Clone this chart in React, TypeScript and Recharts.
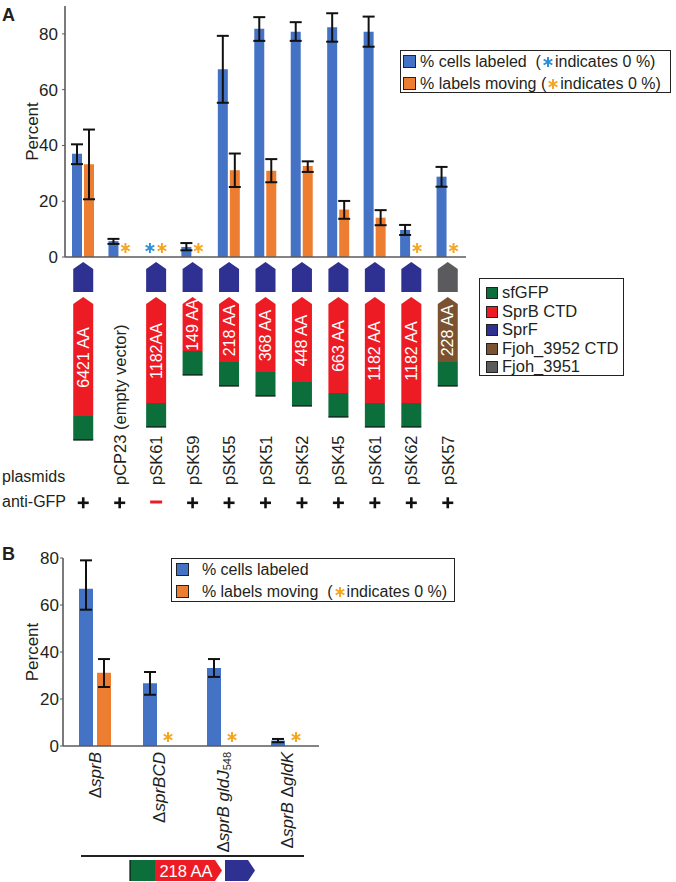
import React from "react";
import { BarChart, Bar, XAxis, YAxis, ErrorBar, LabelList } from "recharts";

const FONT = '"Liberation Sans", Arial, Helvetica, sans-serif';
const INK = "#231F20";
const BLUE = "#4472C4";
const ORANGE = "#ED7D31";
const STAR_BLUE = "#2F8FD8";
const STAR_ORANGE = "#F6A623";

const DOMAIN_COLORS: Record<string, string> = {
  sfGFP: "#0B6E3B",
  "SprB CTD": "#ED1C24",
  SprF: "#2E3192",
  "Fjoh_3952 CTD": "#7A5230",
  Fjoh_3951: "#5B5B5E",
};

// ---- panel A data ----
const plasmidsA = ["", "pCP23 (empty vector)", "pSK61", "pSK59", "pSK55", "pSK51", "pSK52", "pSK45", "pSK61", "pSK62", "pSK57"];
const antiGFP = [true, true, false, true, true, true, true, true, true, true, true];
const capDomain = ["SprF", null, "SprF", "SprF", "SprF", "SprF", "SprF", "SprF", "SprF", "SprF", "Fjoh_3951"];
const ctdDomain = ["SprB CTD", null, "SprB CTD", "SprB CTD", "SprB CTD", "SprB CTD", "SprB CTD", "SprB CTD", "SprB CTD", "SprB CTD", "Fjoh_3952 CTD"];
const ctdLabels = ["6421 AA", "", "1182AA", "149 AA", "218 AA", "368 AA", "448 AA", "663 AA", "1182 AA", "1182 AA", "228 AA"];

const cellsA = [37, 5.7, 0, 3.6, 67.3, 81.8, 80.8, 82.4, 80.8, 9.7, 28.8];
const cellsALo = [33.3, 4.7, null, 2.4, 55.3, 77.5, 77.5, 77.2, 75.4, 7.9, 25.2];
const cellsAHi = [40.4, 6.5, null, 5.0, 79.3, 86.0, 84.2, 87.4, 86.2, 11.5, 32.3];
const movingA = [33.3, 0, 0, 0, 31.1, 30.9, 32.6, 17.0, 14.1, 0, 0];
const movingALo = [20.7, null, null, null, 25.1, 26.8, 30.5, 13.7, 11.4, null, null];
const movingAHi = [45.7, null, null, null, 37.1, 35.1, 34.3, 20.1, 16.8, null, null];

// ---- panel B data ----
const strainsB = ["ΔsprB", "ΔsprBCD", "ΔsprB gldJ548", "ΔsprB ΔgldK"];
const cellsB = [66.9, 26.7, 33.2, 2.3];
const cellsBLo = [58, 21.8, 29.4, 1.6];
const cellsBHi = [79, 31.5, 37.0, 3.0];
const movingB = [31.2, 0, 0, 0];
const movingBLo = [25.1, null, null, null];
const movingBHi = [37.0, null, null, null];

const yTicksA = [0, 20, 40, 60, 80];
const yTicksB = [0, 20, 40, 60, 80];

// drawing lengths (px below the axis) for the construct cartoons
const ctdEnd = [159, 0, 146, 94, 105, 115, 125, 136, 146, 146, 105];
const GFP_LEN = 24;

const err = (v: number, lo: number | null, hi: number | null) =>
  lo == null || hi == null ? undefined : [v - lo, hi - v];

const dataA = plasmidsA.map((p, i) => ({
  id: "c" + i,
  cells: cellsA[i],
  moving: movingA[i],
  cellsErr: err(cellsA[i], cellsALo[i], cellsAHi[i]),
  movingErr: err(movingA[i], movingALo[i], movingAHi[i]),
}));

const dataB = strainsB.map((s, i) => ({
  id: s,
  cells: cellsB[i],
  moving: movingB[i],
  cellsErr: err(cellsB[i], cellsBLo[i], cellsBHi[i]),
  movingErr: err(movingB[i], movingBLo[i], movingBHi[i]),
}));

const Star = ({ cx, cy, color, r = 5 }: { cx: number; cy: number; color: string; r?: number }) => (
  <g stroke={color} strokeWidth={2}>
    <line x1={cx} y1={cy - r} x2={cx} y2={cy + r} />
    <line x1={cx - r * 0.866} y1={cy - r / 2} x2={cx + r * 0.866} y2={cy + r / 2} />
    <line x1={cx - r * 0.866} y1={cy + r / 2} x2={cx + r * 0.866} y2={cy - r / 2} />
  </g>
);

// asterisk drawn where a bar has value 0
const zeroStar = (color: string, lift: number) => (props: any) => {
  const raw = Array.isArray(props.value) ? props.value[1] : props.value;
  if (Number(raw) !== 0) return null;
  const vb = props.viewBox && props.viewBox.x != null ? props.viewBox : props;
  const x = Number(vb.x);
  const w = Number(vb.width) || 0;
  const y = Number(vb.y);
  const h = Number(vb.height) || 0;
  if (!isFinite(x) || !isFinite(y)) return null;
  const base = Math.max(y, y + h);
  return <Star cx={x + w / 2} cy={base - lift} color={color} />;
};

const PercentLabel = (props: any) => {
  const vb = props.viewBox || {};
  const cx = (vb.x || 0) + 32;
  const cy = (vb.y || 0) + (vb.height || 0) / 2;
  return (
    <text x={cx} y={cy} transform={`rotate(-90 ${cx} ${cy})`} textAnchor="middle" dominantBaseline="central"
      fontSize={17} fill={INK} fontFamily={FONT}>
      Percent
    </text>
  );
};

const pent = (x: number, top: number, shoulder: number, bottom: number, h: number) =>
  `${x - h},${bottom} ${x - h},${shoulder} ${x},${top} ${x + h},${shoulder} ${x + h},${bottom}`;

const ColumnTick = (props: any) => {
  const { x, y, index } = props;
  const i = index as number;
  const h = 10;
  const cap = capDomain[i];
  const ctd = ctdDomain[i];
  const r = ctdEnd[i];
  const g = r + GFP_LEN;
  const mid = y + (40 + r) / 2 + 1;
  return (
    <g fontFamily={FONT}>
      {cap && <polygon points={pent(x, y + 5, y + 12, y + 35, h)} fill={DOMAIN_COLORS[cap]} />}
      {ctd && (
        <g>
          <polygon points={pent(x, y + 40, y + 47, y + r, h)} fill={DOMAIN_COLORS[ctd]} />
          <rect x={x - h} y={y + r} width={2 * h} height={GFP_LEN} fill={DOMAIN_COLORS.sfGFP} />
          <line x1={x - h} x2={x + h} y1={y + g} y2={y + g} stroke="#111" strokeWidth={1.2} />
          <text x={x} y={mid} transform={`rotate(-90 ${x} ${mid})`} textAnchor="middle" dominantBaseline="central"
            fontSize={16} fill="#fff">
            {ctdLabels[i]}
          </text>
        </g>
      )}
      {plasmidsA[i] && (
        <text x={x} y={y + 228} transform={`rotate(-90 ${x} ${y + 228})`} textAnchor="start" dominantBaseline="central"
          fontSize={16.5} fill={INK}>
          {plasmidsA[i]}
        </text>
      )}
      {antiGFP[i] ? (
        <g fill="#111">
          <rect x={x - 5.5} y={y + 244.5} width={11} height={2.6} />
          <rect x={x - 1.3} y={y + 240.3} width={2.6} height={11} />
        </g>
      ) : (
        <rect x={x - 6} y={y + 243.5} width={12} height={3} fill="#ED1C24" />
      )}
    </g>
  );
};

const StrainTick = (props: any) => {
  const { x, y, payload } = props;
  const label: string = payload.value;
  const ty = y + 6;
  const parts = label.match(/Δ|\d+$|[^Δ\d]+/g) || [];
  return (
    <text x={x} y={ty} transform={`rotate(-90 ${x} ${ty})`} textAnchor="end" dominantBaseline="central"
      fontSize={17} fill={INK} fontFamily={FONT}>
      {parts.map((p, k) =>
        p === "Δ" ? (
          <tspan key={k}>Δ</tspan>
        ) : /^\d+$/.test(p) ? (
          <tspan key={k} fontSize={11} dy={4}>{p}</tspan>
        ) : (
          <tspan key={k} fontStyle="italic">{p}</tspan>
        )
      )}
    </text>
  );
};

const Swatch = ({ color, size = 13 }: { color: string; size?: number }) => (
  <span style={{ display: "inline-block", width: size - 2, height: size - 2, background: color, border: "1.5px solid #222", marginRight: 4, verticalAlign: "-1px" }} />
);

const InlineStar = ({ color }: { color: string }) => (
  <svg width={12} height={12} style={{ verticalAlign: "-1px", margin: "0 1px" }}>
    <Star cx={6} cy={6} color={color} r={5} />
  </svg>
);

const axisStroke = "#5a5a5a";

export default function App() {
  return (
    <div style={{ position: "absolute", left: 0, top: 0, width: 676, height: 882, background: "#fff", fontFamily: FONT, color: INK, overflow: "hidden" }}>
      {/* panel A */}
      <div style={{ position: "absolute", left: 0, top: 0 }}>
        <BarChart width={676} height={520} data={dataA} margin={{ top: 6, right: 210, bottom: 0, left: 0 }} barSize={10} barGap={2}>
          <YAxis domain={[0, 90]} ticks={yTicksA} width={65} tickSize={3} tickMargin={4}
            axisLine={{ stroke: axisStroke, strokeWidth: 1.6 }} tickLine={{ stroke: axisStroke }}
            tick={{ fontSize: 17, fill: INK, fontFamily: FONT }} label={<PercentLabel />} />
          <XAxis dataKey="id" height={263} interval={0} tickSize={0} tickMargin={0} tickLine={false}
            axisLine={{ stroke: axisStroke, strokeWidth: 1.6 }} tick={<ColumnTick />} />
          <Bar dataKey="cells" fill={BLUE} minPointSize={0.01} isAnimationActive={false}>
            <ErrorBar dataKey="cellsErr" width={6} stroke="#111" strokeWidth={2} />
            <LabelList dataKey="cells" content={zeroStar(STAR_BLUE, 9)} />
          </Bar>
          <Bar dataKey="moving" fill={ORANGE} minPointSize={0.01} isAnimationActive={false}>
            <ErrorBar dataKey="movingErr" width={6} stroke="#111" strokeWidth={2} />
            <LabelList dataKey="moving" content={zeroStar(STAR_ORANGE, 9)} />
          </Bar>
        </BarChart>
      </div>

      {/* panel B */}
      <div style={{ position: "absolute", left: 0, top: 540 }}>
        <BarChart width={676} height={342} data={dataB} margin={{ top: 18, right: 357, bottom: 0, left: 0 }} barSize={14} barGap={4}>
          <YAxis domain={[0, 80]} ticks={yTicksB} width={63} tickSize={3} tickMargin={1}
            axisLine={{ stroke: axisStroke, strokeWidth: 1.6 }} tickLine={{ stroke: axisStroke }}
            tick={{ fontSize: 17, fill: INK, fontFamily: FONT }} label={<PercentLabel />} />
          <XAxis dataKey="id" height={136} interval={0} tickSize={0} tickMargin={0} tickLine={false}
            axisLine={{ stroke: axisStroke, strokeWidth: 1.6 }} tick={<StrainTick />} />
          <Bar dataKey="cells" fill={BLUE} minPointSize={0.01} isAnimationActive={false}>
            <ErrorBar dataKey="cellsErr" width={6} stroke="#111" strokeWidth={2} />
            <LabelList dataKey="cells" content={zeroStar(STAR_BLUE, 9)} />
          </Bar>
          <Bar dataKey="moving" fill={ORANGE} minPointSize={0.01} isAnimationActive={false}>
            <ErrorBar dataKey="movingErr" width={6} stroke="#111" strokeWidth={2} />
            <LabelList dataKey="moving" content={zeroStar(STAR_ORANGE, 9)} />
          </Bar>
        </BarChart>
      </div>

      {/* annotations */}
      <svg width={676} height={882} style={{ position: "absolute", left: 0, top: 0, pointerEvents: "none" }} fontFamily={FONT}>
        <text x={2} y={21} fontSize={18} fontWeight="bold" fill={INK}>A</text>
        <text x={2} y={560} fontSize={18} fontWeight="bold" fill={INK}>B</text>
        <text x={2} y={482} fontSize={16} fill={INK}>plasmids</text>
        <text x={2} y={507} fontSize={16} fill={INK}>anti-GFP</text>
        <line x1={81} x2={304} y1={856} y2={856} stroke="#222" strokeWidth={2} />
        <rect x={130} y={860} width={25} height={21} fill={DOMAIN_COLORS.sfGFP} />
        <line x1={130} x2={130} y1={860} y2={881} stroke="#111" strokeWidth={1.2} />
        <polygon points="155,860 215,860 222,870.5 215,881 155,881" fill={DOMAIN_COLORS["SprB CTD"]} />
        <text x={186} y={876.5} textAnchor="middle" fontSize={16.5} fill="#fff">218 AA</text>
        <polygon points="225,860 248,860 255,870.5 248,881 225,881" fill={DOMAIN_COLORS.SprF} />
      </svg>

      {/* legend A */}
      <div style={{ position: "absolute", left: 400, top: 50, width: 267, height: 41, border: "1.5px solid #222", fontSize: 16, lineHeight: "22px", padding: "0 0 0 2px", whiteSpace: "nowrap" }}>
        <div><Swatch color={BLUE} />% cells labeled&nbsp;&nbsp;(<InlineStar color={STAR_BLUE} />indicates 0 %)</div>
        <div><Swatch color={ORANGE} />% labels moving&nbsp;(<InlineStar color={STAR_ORANGE} />indicates 0 %)</div>
      </div>

      {/* protein legend */}
      <div style={{ position: "absolute", left: 479, top: 278, width: 145, height: 98, border: "1.5px solid #222", fontSize: 16.5, lineHeight: "18.5px", padding: "4px 0 0 6px", boxSizing: "border-box", whiteSpace: "nowrap" }}>
        {Object.keys(DOMAIN_COLORS).map((k) => (
          <div key={k}><Swatch color={DOMAIN_COLORS[k]} size={12} />{k}</div>
        ))}
      </div>

      {/* legend B */}
      <div style={{ position: "absolute", left: 171, top: 558, width: 278, height: 42, border: "1.5px solid #222", fontSize: 16, lineHeight: "22px", padding: "0 0 0 4px", whiteSpace: "nowrap" }}>
        <div><Swatch color={BLUE} />&nbsp;&nbsp;% cells labeled</div>
        <div><Swatch color={ORANGE} />&nbsp;&nbsp;% labels moving&nbsp;&nbsp;(<InlineStar color={STAR_ORANGE} />indicates 0 %)</div>
      </div>
    </div>
  );
}
